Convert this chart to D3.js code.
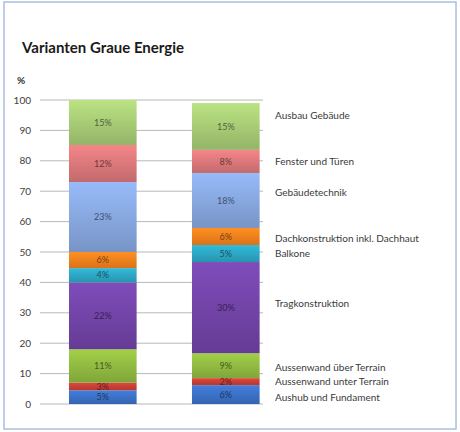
<!DOCTYPE html>
<html>
<head>
<meta charset="utf-8">
<script src="https://cdn.jsdelivr.net/npm/d3@7"></script>
<style>
  body { margin: 0; background: #fff; }
  text { font-family: Lato, 'Open Sans', sans-serif; }
</style>
</head>
<body>
<div id="chart"></div>
<script>
// Data (percent of grey energy per building part)
const variants = ['Variante 1', 'Variante 2'];
const parts = [
  'Aushub und Fundament',
  'Aussenwand unter Terrain',
  'Aussenwand über Terrain',
  'Tragkonstruktion',
  'Balkone',
  'Dachkonstruktion inkl. Dachhaut',
  'Gebäudetechnik',
  'Fenster und Türen',
  'Ausbau Gebäude'
];
const variant1 = [4.5, 2.5, 11, 22, 4.7, 5.3, 23, 12.2, 14.8];
const variant2 = [6.2, 2.3, 8.2, 30, 5.6, 5.6, 18.1, 7.6, 15.4];
const labels1 = ['5%', '3%', '11%', '22%', '4%', '6%', '23%', '12%', '15%'];
const labels2 = ['6%', '2%', '9%', '30%', '5%', '6%', '18%', '8%', '15%'];
const yTicks = [0, 10, 20, 30, 40, 50, 60, 70, 80, 90, 100];

const colors = ['#3a6fc4', '#c63e36', '#8fb840', '#7043a5', '#2ca5c2',
                '#f37f1c', '#85a5dc', '#d87679', '#a5c874'];
// small vertical nudges of the series names next to the second bar
const nameNudge = [2.5, 0, 1.5, -4, 0, 2.5, -8, 0, -11];

const width = 460, height = 432;

const svg = d3.select('#chart').append('svg')
  .attr('width', width)
  .attr('height', height);

// frame
svg.append('rect')
  .attr('x', 4).attr('y', 2)
  .attr('width', 452).attr('height', 427)
  .attr('fill', '#fff')
  .attr('stroke', '#a9bfdf')
  .attr('stroke-width', 1.5);

// gradients, lighter at the top of each segment
const defs = svg.append('defs');
colors.forEach((c, i) => {
  const g = defs.append('linearGradient')
    .attr('id', `grad${i}`)
    .attr('x1', 0).attr('y1', 0).attr('x2', 0).attr('y2', 1);
  g.append('stop').attr('offset', '0%').attr('stop-color', d3.color(c).brighter(0.35));
  g.append('stop').attr('offset', '100%').attr('stop-color', d3.color(c).darker(0.3));
});

const y = d3.scaleLinear().domain([0, 100]).range([404, 100]);
const x = d3.scaleBand().domain(variants).range([41.3, 287.3])
  .paddingInner(0.45).paddingOuter(0.225);

// title
svg.append('text')
  .attr('x', 22).attr('y', 53)
  .attr('font-size', 15).attr('font-weight', 'bold')
  .attr('fill', '#1a1a1a')
  .text('Varianten Graue Energie');

svg.append('text')
  .attr('x', 17).attr('y', 84)
  .attr('font-size', 10).attr('font-weight', 'bold')
  .attr('fill', '#333')
  .text('%');

// gridlines + tick labels
svg.append('g').selectAll('line')
  .data(yTicks)
  .join('line')
  .attr('x1', 40).attr('x2', 263)
  .attr('y1', d => y(d)).attr('y2', d => y(d))
  .attr('stroke', '#b8b8b8')
  .attr('stroke-width', 1);

svg.append('g').selectAll('text')
  .data(yTicks)
  .join('text')
  .attr('x', 31)
  .attr('y', d => y(d))
  .attr('dy', '0.35em')
  .attr('text-anchor', 'end')
  .attr('font-size', 10)
  .attr('fill', '#404040')
  .text(d => d);

// stacked bars
const rows = variants.map((v, vi) => {
  const row = { variant: v };
  const vals = vi === 0 ? variant1 : variant2;
  parts.forEach((p, i) => { row[p] = vals[i]; });
  return row;
});
const labelsByVariant = [labels1, labels2];

const stacked = d3.stack().keys(parts)(rows);

const layer = svg.append('g').selectAll('g')
  .data(stacked)
  .join('g')
  .attr('fill', (d, i) => `url(#grad${i})`);

layer.selectAll('rect')
  .data(d => d)
  .join('rect')
  .attr('x', d => x(d.data.variant))
  .attr('width', x.bandwidth())
  .attr('y', d => y(d[1]))
  .attr('height', d => y(d[0]) - y(d[1]));

// value labels inside segments
stacked.forEach((s, i) => {
  svg.append('g').selectAll('text')
    .data(s)
    .join('text')
    .attr('x', d => x(d.data.variant) + x.bandwidth() / 2)
    .attr('y', d => (y(d[0]) + y(d[1])) / 2)
    .attr('dy', '0.35em')
    .attr('text-anchor', 'middle')
    .attr('font-size', 9)
    .attr('fill', d3.color(colors[i]).darker(2))
    .text((d, vi) => labelsByVariant[vi][i]);
});

// series names next to the second bar
svg.append('g').selectAll('text')
  .data(stacked)
  .join('text')
  .attr('x', 275)
  .attr('y', (s, i) => (y(s[1][0]) + y(s[1][1])) / 2 + nameNudge[i])
  .attr('dy', '0.35em')
  .attr('font-size', 10)
  .attr('fill', '#3a3a3a')
  .text(s => s.key);
</script>
</body>
</html>
